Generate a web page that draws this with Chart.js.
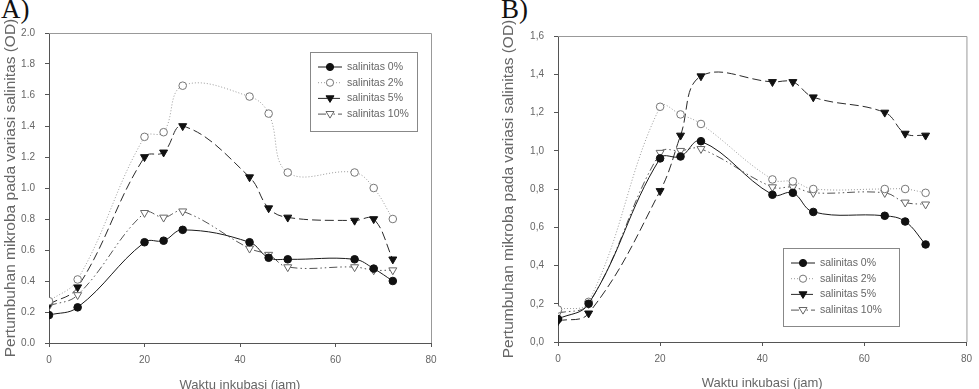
<html>
<head>
    <title>Pertumbuhan mikroba</title>
    <script src="https://cdn.jsdelivr.net/npm/chart.js"></script>
    <style>
        html, body { margin: 0; padding: 0; background: #fff; overflow: hidden; }
        .panel { position: absolute; top: 0; }
        .tag { position: absolute; top: -6px; font-family: "Liberation Serif", serif; font-size: 27px; color: #111; }
    </style>
</head>
<body>
    <div class="tag" style="left: 1px;">A)</div>
    <div class="tag" style="left: 501px;">B)</div>
    <div class="panel" style="left: 0px;"><canvas id="chartA" width="490" height="395"></canvas></div>
    <div class="panel" style="left: 490px;"><canvas id="chartB" width="489" height="395"></canvas></div>
</body>
<script>
    const hours = [0, 6, 20, 24, 28, 42, 46, 50, 64, 68, 72]
    const seriesNames = ['salinitas 0%', 'salinitas 2%', 'salinitas 5%', 'salinitas 10%']

    // panel A
    const a_sal0 = [0.18, 0.23, 0.65, 0.66, 0.73, 0.65, 0.55, 0.54, 0.54, 0.48, 0.40]
    const a_sal2 = [0.27, 0.41, 1.33, 1.36, 1.66, 1.59, 1.48, 1.10, 1.10, 1.00, 0.80]
    const a_sal5 = [0.25, 0.36, 1.20, 1.23, 1.40, 1.07, 0.87, 0.81, 0.79, 0.80, 0.54]
    const a_sal10 = [0.24, 0.31, 0.84, 0.81, 0.85, 0.61, 0.57, 0.49, 0.49, 0.47, 0.47]

    // panel B
    const b_sal0 = [0.12, 0.20, 0.96, 0.97, 1.05, 0.77, 0.78, 0.68, 0.66, 0.63, 0.51]
    const b_sal2 = [0.17, 0.21, 1.23, 1.19, 1.14, 0.85, 0.84, 0.80, 0.80, 0.80, 0.78]
    const b_sal5 = [0.11, 0.15, 0.79, 1.08, 1.39, 1.36, 1.36, 1.28, 1.20, 1.09, 1.08]
    const b_sal10 = [0.15, 0.20, 0.99, 1.00, 1.01, 0.81, 0.81, 0.78, 0.78, 0.73, 0.72]

    const styles = [
        { color: '#1a1a1a', dash: [], fill: '#111', edge: '#111', shape: 'circle' },
        { color: '#9a9a9a', dash: [1, 2], fill: '#fff', edge: '#777', shape: 'circle' },
        { color: '#2a2a2a', dash: [9, 4], fill: '#111', edge: '#111', shape: 'tri' },
        { color: '#555', dash: [8, 3, 1.5, 3, 1.5, 3], fill: '#fff', edge: '#666', shape: 'tri' }
    ]

    const makeDatasets = (lists) => lists.map((vals, i) => ({
        label: seriesNames[i],
        data: vals.map((v, j) => ({ x: hours[j], y: v })),
        borderColor: styles[i].color,
        borderWidth: 1,
        borderDash: styles[i].dash,
        tension: 0.4,
        pointStyle: styles[i].shape === 'circle' ? 'circle' : 'triangle',
        pointRotation: styles[i].shape === 'circle' ? 0 : 180,
        pointRadius: styles[i].shape === 'circle' ? 3.8 : 4.6,
        pointBackgroundColor: styles[i].fill,
        pointBorderColor: styles[i].edge,
        pointBorderWidth: 1
    }))

    const drawMarker = (ctx, st, x, y) => {
        ctx.save()
        ctx.setLineDash([])
        ctx.fillStyle = st.fill
        ctx.strokeStyle = st.edge
        ctx.lineWidth = 1
        ctx.beginPath()
        if (st.shape === 'circle') {
            ctx.arc(x, y, 3.6, 0, Math.PI * 2)
        } else {
            ctx.moveTo(x - 4, y - 2.6)
            ctx.lineTo(x + 4, y - 2.6)
            ctx.lineTo(x, y + 4)
            ctx.closePath()
        }
        ctx.fill()
        ctx.stroke()
        ctx.restore()
    }

    // frame + legend box inside plot
    const boxLegend = {
        id: 'boxLegend',
        afterDraw(chart, args, opts) {
            const ctx = chart.ctx
            const ca = chart.chartArea
            ctx.save()
            ctx.strokeStyle = '#999'
            ctx.lineWidth = 1
            ctx.beginPath()
            ctx.moveTo(ca.left, ca.top + 0.5)
            ctx.lineTo(ca.right + 0.5, ca.top + 0.5)
            ctx.lineTo(ca.right + 0.5, ca.bottom)
            ctx.stroke()

            ctx.fillStyle = '#fff'
            ctx.fillRect(opts.x, opts.y, opts.w, opts.h)
            ctx.strokeStyle = '#888'
            ctx.strokeRect(opts.x + 0.5, opts.y + 0.5, opts.w, opts.h)

            ctx.font = '10.5px "Liberation Sans", Arial, sans-serif'
            ctx.textBaseline = 'middle'
            chart.data.datasets.forEach((ds, i) => {
                const st = styles[i]
                const y = opts.y + opts.first + i * opts.step
                const x0 = opts.x + 8
                ctx.strokeStyle = st.color
                ctx.setLineDash(st.dash)
                ctx.beginPath()
                ctx.moveTo(x0, y)
                ctx.lineTo(x0 + 24, y)
                ctx.stroke()
                drawMarker(ctx, st, x0 + 12, y)
                ctx.fillStyle = '#666'
                ctx.fillText(ds.label, x0 + 29, y)
            })
            ctx.restore()
        }
    }

    const makeOptions = (cfg) => ({
        responsive: false,
        animation: false,
        layout: { padding: { left: 0, right: cfg.padRight, top: cfg.padTop, bottom: 0 } },
        plugins: {
            legend: { display: false },
            tooltip: { enabled: false },
            boxLegend: cfg.legend
        },
        scales: {
            x: {
                type: 'linear',
                min: 0,
                max: 80,
                afterFit: (s) => { s.height = 395 - cfg.bottom },
                border: { display: true, color: '#555', width: 1 },
                grid: { display: true, drawOnChartArea: false, drawTicks: true, tickLength: 4, color: '#555' },
                ticks: { stepSize: 20, padding: 7, color: '#666', font: { family: 'Liberation Sans', size: 10 } },
                title: {
                    display: true,
                    text: 'Waktu inkubasi (jam)',
                    color: '#666',
                    font: { family: 'Liberation Sans', size: 13 },
                    padding: { top: 0, bottom: cfg.xTitlePad }
                }
            },
            y: {
                min: 0,
                max: cfg.yMax,
                afterFit: (s) => { s.width = cfg.left },
                border: { display: true, color: '#555', width: 1 },
                grid: { display: true, drawOnChartArea: false, drawTicks: true, tickLength: 4, color: '#555' },
                ticks: {
                    stepSize: 0.2,
                    padding: 10,
                    color: '#666',
                    font: { family: 'Liberation Sans', size: 10 },
                    callback: (v) => cfg.comma ? v.toFixed(1).replace('.', ',') : v.toFixed(1)
                },
                title: {
                    display: true,
                    text: 'Pertumbuhan mikroba pada variasi salinitas (OD)',
                    color: '#666',
                    font: { family: 'Liberation Sans', size: 15.5 },
                    padding: { top: cfg.yTitlePad, bottom: 0 }
                }
            }
        }
    })

    new Chart(document.getElementById('chartA').getContext('2d'), {
        type: 'line',
        data: { datasets: makeDatasets([a_sal0, a_sal2, a_sal5, a_sal10]) },
        options: makeOptions({
            padRight: 59, padTop: 33, bottom: 343, left: 49, yMax: 2.0, comma: false,
            xTitlePad: 2, yTitlePad: 1,
            legend: { x: 310, y: 52, w: 107, h: 79, first: 15, step: 15.7 }
        }),
        plugins: [boxLegend]
    })

    new Chart(document.getElementById('chartB').getContext('2d'), {
        type: 'line',
        data: { datasets: makeDatasets([b_sal0, b_sal2, b_sal5, b_sal10]) },
        options: makeOptions({
            padRight: 8, padTop: 36, bottom: 342, left: 68, yMax: 1.6, comma: true,
            xTitlePad: 4, yTitlePad: 9,
            legend: { x: 293, y: 248, w: 116, h: 78, first: 15, step: 15.7 }
        }),
        plugins: [boxLegend]
    })
</script>
</html>
